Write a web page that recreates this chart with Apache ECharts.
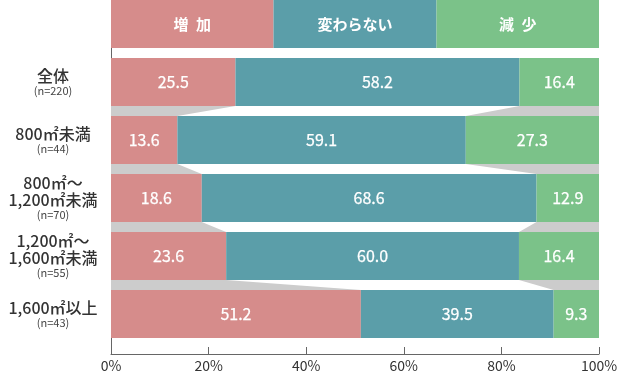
<!DOCTYPE html>
<html>
<head>
<meta charset="utf-8">
<script src="https://cdn.jsdelivr.net/npm/echarts@6/dist/echarts.min.js"></script>
<style>html,body{margin:0;padding:0;background:#fff}#c{width:630px;height:372px}</style>
</head>
<body>
<div id="c"></div>
<script>
const categories = ['全体', '800㎡未満', '800㎡～\n1,200㎡未満', '1,200㎡～\n1,600㎡未満', '1,600㎡以上'];
const sampleSizes = ['(n=220)', '(n=44)', '(n=70)', '(n=55)', '(n=43)'];
const seriesNames = ['増\u2002加', '変わらない', '減\u2002少'];
const headerShares = [33.3, 33.4, 33.3];
const increase = [25.5, 13.6, 18.6, 23.6, 51.2];
const unchanged = [58.2, 59.1, 68.6, 60.0, 39.5];
const decrease = [16.4, 27.3, 12.9, 16.4, 9.3];
const xTickValues = [0, 20, 40, 60, 80, 100];

const colors = ['#d68c8b', '#5b9ea9', '#7bc289'];
const FONT = '"Noto Sans CJK JP", "Noto Sans", sans-serif';
const BAR_W = 48;

const yCats = [''].concat(categories.map((c, i) => c + '\n' + sampleSizes[i]));
const rows = [increase, unchanged, decrease];

const connectorData = [];
for (let i = 0; i < categories.length - 1; i++) {
  connectorData.push([
    i + 1,
    increase[i], increase[i] + unchanged[i],
    increase[i + 1], increase[i + 1] + unchanged[i + 1]
  ]);
}

const chart = echarts.init(document.getElementById('c'));
const barSeries = rows.map((vals, s) => ({
  name: seriesNames[s],
  type: 'bar',
  stack: 'all',
  xAxisIndex: 1,
  yAxisIndex: 1,
  barWidth: BAR_W,
  itemStyle: { color: colors[s] },
  label: {
    show: true,
    position: 'inside',
    color: '#fff',
    fontFamily: FONT,
    fontSize: 16,
    fontWeight: 'normal',
    textBorderColor: '#fff',
    textBorderWidth: 0.25,
    formatter: p => p.dataIndex === 0 ? seriesNames[s] : p.value.toFixed(1)
  },
  emphasis: { disabled: true },
  data: [headerShares[s]].concat(vals).map((v, k) => k === 0 ? { value: v, label: { fontWeight: 'bold', fontSize: 15, textBorderWidth: 0 } } : v)
}));

chart.setOption({
  animation: false,
  textStyle: { fontFamily: FONT },
  grid: [
    { left: 111, right: 31, top: 0, bottom: 18, outerBoundsMode: 'none', containLabel: false },
    { left: 111, right: 31, top: -5, height: 348, outerBoundsMode: 'none', containLabel: false }
  ],
  xAxis: [
    {
      gridIndex: 0, type: 'value', min: 0, max: 100, interval: 20,
      axisLine: { show: true, lineStyle: { color: '#666', width: 1 } },
      axisTick: { show: true, inside: true, length: 7, lineStyle: { color: '#666' } },
      axisLabel: { formatter: '{value}%', color: '#333', fontSize: 14, margin: 5, fontFamily: FONT },
      splitLine: { show: false }
    },
    {
      gridIndex: 1, type: 'value', min: 0, max: 100, show: false
    }
  ],
  yAxis: [
    {
      gridIndex: 0, type: 'value', min: 0, max: 1,
      axisLine: { show: true, lineStyle: { color: '#666', width: 1 } },
      axisTick: { show: false }, axisLabel: { show: false }, splitLine: { show: false }
    },
    {
      gridIndex: 1, type: 'category', inverse: true, data: yCats,
      axisLine: { show: false }, axisTick: { show: false },
      axisLabel: {
        align: 'center', margin: 58,
        formatter: v => {
          if (!v) return '';
          const lines = v.split('\n');
          return lines.map((l, i) => i === lines.length - 1 ? '{s|' + l + '}' : '{m|' + l + '}').join('\n');
        },
        rich: {
          m: { fontSize: 16, lineHeight: 17, color: '#333', fontFamily: FONT, fontWeight: 500 },
          s: { fontSize: 11, lineHeight: 13, color: '#444', fontFamily: FONT }
        }
      }
    }
  ],
  series: [
    {
      type: 'custom',
      xAxisIndex: 1, yAxisIndex: 1,
      encode: { y: 0, x: [1, 2, 3, 4] },
      silent: true,
      z: 1,
      renderItem: (params, api) => {
        const r = api.value(0);
        const topY = api.coord([0, r])[1] + BAR_W / 2;
        const botY = api.coord([0, r + 1])[1] - BAR_W / 2;
        const x0 = api.coord([0, r])[0];
        const x100 = api.coord([100, r])[0];
        const a1 = api.coord([api.value(1), r])[0];
        const a2 = api.coord([api.value(2), r])[0];
        const b1 = api.coord([api.value(3), r])[0];
        const b2 = api.coord([api.value(4), r])[0];
        const st = { fill: '#cccccc' };
        return {
          type: 'group',
          children: [
            { type: 'polygon', shape: { points: [[x0, topY], [a1, topY], [b1, botY], [x0, botY]] }, style: st },
            { type: 'polygon', shape: { points: [[a2, topY], [x100, topY], [x100, botY], [b2, botY]] }, style: st }
          ]
        };
      },
      data: connectorData
    }
  ].concat(barSeries)
});
</script>
</body>
</html>
